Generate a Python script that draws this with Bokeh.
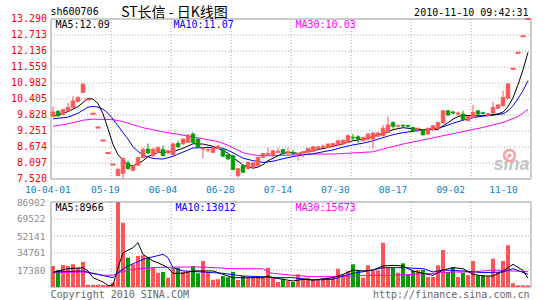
from bokeh.plotting import figure
from bokeh.models import Range1d, ColumnDataSource
from bokeh.core.properties import value
from bokeh.embed import file_html
from bokeh.resources import INLINE

# ---------------- data ----------------
opens = [9.78, 9.96, 9.84, 9.98, 10.10, 10.31, 10.64, 10.39, 9.87, 9.38, 8.91, 8.46, 8.04, 7.64, 7.72, 8.10,
         7.83, 8.02, 8.29, 8.60, 8.36, 8.48, 8.58, 8.46, 8.40, 8.80, 8.78, 8.84, 9.14, 8.96, 8.60, 8.56,
         8.48, 8.62, 8.58, 8.39, 8.36, 7.64, 8.00, 7.90, 7.94, 8.00, 8.30, 8.40, 8.36, 8.48, 8.58, 8.46,
         8.48, 8.42, 8.46, 8.48, 8.51, 8.60, 8.66, 8.66, 8.70, 8.74, 8.78, 8.84, 9.02, 9.04, 8.90, 8.94,
         8.96, 9.06, 9.08, 9.20, 9.56, 9.42, 9.46, 9.45, 9.38, 9.32, 9.30, 9.14, 9.30, 9.34, 9.54, 9.98,
         9.94, 9.86, 9.86, 9.62, 9.74, 9.98, 9.92, 9.80, 9.90, 10.07, 10.16, 10.43, 11.50, 12.07, 12.67, 13.29]
closes = [9.94, 9.80, 10.02, 10.10, 10.34, 10.46, 10.94, 10.39, 9.87, 9.38, 8.91, 8.46, 8.04, 7.86, 8.26, 7.90,
          8.00, 8.29, 8.58, 8.46, 8.60, 8.66, 8.36, 8.54, 8.78, 8.68, 8.96, 9.11, 8.84, 8.66, 8.62, 8.58,
          8.66, 8.70, 8.34, 8.24, 7.86, 7.90, 7.76, 8.12, 8.10, 8.30, 8.44, 8.44, 8.54, 8.52, 8.42, 8.50,
          8.44, 8.44, 8.50, 8.62, 8.68, 8.68, 8.70, 8.78, 8.80, 8.90, 8.92, 9.08, 9.00, 8.96, 9.02, 9.14,
          9.18, 9.18, 9.35, 9.47, 9.42, 9.45, 9.43, 9.42, 9.26, 9.35, 9.11, 9.35, 9.44, 9.56, 9.98, 9.83,
          9.90, 9.90, 9.66, 9.78, 9.92, 9.86, 9.88, 9.88, 10.10, 10.19, 10.46, 10.95, 11.50, 12.07, 12.67, 13.29]
highs = [10.13, 10.00, 10.05, 10.27, 10.52, 10.50, 10.97, 10.39, 9.87, 9.38, 8.91, 8.46, 8.04, 7.92, 8.30, 8.18,
         8.02, 8.31, 8.66, 8.80, 8.62, 8.68, 8.72, 8.56, 8.84, 8.90, 8.98, 9.14, 9.20, 8.98, 8.66, 8.62,
         8.68, 8.74, 8.62, 8.42, 8.38, 7.92, 8.04, 8.16, 8.12, 8.32, 8.46, 8.66, 8.56, 8.64, 8.60, 8.66,
         8.58, 8.46, 8.52, 8.64, 8.70, 8.70, 8.76, 8.80, 8.82, 8.92, 8.94, 9.14, 9.14, 9.10, 9.04, 9.16,
         9.20, 9.20, 9.47, 9.78, 9.60, 9.48, 9.48, 9.46, 9.40, 9.38, 9.32, 9.37, 9.46, 9.58, 10.00, 10.00,
         9.96, 9.96, 9.98, 9.80, 10.19, 10.00, 9.94, 9.90, 10.31, 10.22, 10.70, 10.98, 11.50, 12.07, 12.67, 13.29]
lows = [9.76, 9.76, 9.82, 9.96, 10.08, 10.28, 10.62, 10.39, 9.87, 9.38, 8.91, 8.46, 8.04, 7.64, 7.52, 7.85,
        7.80, 8.00, 8.27, 8.42, 8.30, 8.46, 8.34, 8.42, 8.34, 8.64, 8.76, 8.82, 8.82, 8.64, 8.26, 8.48,
        8.46, 8.60, 8.32, 8.22, 7.84, 7.58, 7.74, 7.86, 7.92, 7.98, 8.28, 8.36, 8.34, 8.46, 8.40, 8.44,
        8.38, 8.18, 8.28, 8.46, 8.50, 8.58, 8.62, 8.64, 8.68, 8.72, 8.76, 8.82, 8.90, 8.82, 8.88, 8.92,
        8.62, 9.04, 9.06, 9.18, 9.34, 9.38, 9.40, 9.38, 9.24, 9.20, 9.10, 9.12, 9.28, 9.30, 9.52, 9.78,
        9.86, 9.80, 9.62, 9.60, 9.72, 9.84, 9.84, 9.78, 9.88, 10.05, 10.14, 10.41, 11.50, 12.07, 12.67, 13.29]
volumes = [21500, 17100, 22500, 21500, 23200, 19700, 25600, 2400, 2300, 2200, 2000, 1800, 4500, 86902, 65700, 30000,
           23200, 31700, 32400, 30000, 20400, 14600, 15300, 9500, 19700, 19700, 15300, 15300, 21500, 14000, 26600, 15300,
           7500, 8000, 11200, 10000, 15300, 7100, 11200, 9500, 10200, 10200, 9500, 19700, 9500, 5100, 8500, 6100,
           5100, 13000, 8500, 9500, 7800, 7800, 8500, 9500, 11200, 18700, 12600, 16000, 23200, 16400, 9500, 22200,
           16400, 17000, 45300, 20400, 19700, 14600, 24200, 13000, 16400, 17400, 17400, 10200, 10200, 22200, 37800, 15300,
           20400, 10200, 14600, 12300, 26600, 12000, 12000, 11200, 29000, 15300, 26600, 42600, 3800, 1700, 1700, 1700]

# moving-average lines, read at the listed candle indices
ma5_x = [0, 3, 5, 7, 8, 9, 10, 11, 12, 13, 14, 15, 16, 17, 18, 19, 21, 24, 26, 28, 30, 32, 34, 35, 36, 37, 38, 40, 41, 42,
         43, 44, 46, 48, 49, 50, 52, 54, 56, 58, 60, 62, 64, 66, 68, 70, 72, 74, 76, 77, 78, 79, 80, 81, 82, 84, 86, 88,
         89, 90, 91, 92, 93, 94, 95]
ma5_v = [9.78, 9.95, 10.13, 10.43, 10.40, 10.24, 9.87, 9.33, 8.76, 8.40, 8.20, 8.02, 8.00, 8.07, 8.18, 8.33, 8.48, 8.50,
         8.63, 8.79, 8.78, 8.70, 8.55, 8.45, 8.29, 8.16, 8.02, 7.91, 7.95, 8.04, 8.18, 8.27, 8.45, 8.48, 8.44, 8.48, 8.54,
         8.62, 8.70, 8.79, 8.90, 8.95, 9.05, 9.15, 9.30, 9.37, 9.33, 9.30, 9.30, 9.30, 9.44, 9.55, 9.68, 9.77, 9.82, 9.80,
         9.80, 9.84, 9.87, 9.93, 10.13, 10.45, 10.92, 11.46, 12.09]
ma10_x = [0, 3, 5, 7, 8, 9, 10, 11, 12, 13, 14, 15, 16, 17, 18, 20, 22, 24, 26, 28, 30, 32, 34, 36, 38, 40, 42, 44, 46, 48,
          50, 52, 54, 56, 58, 60, 62, 64, 66, 68, 70, 72, 74, 76, 78, 80, 82, 84, 86, 88, 90, 91, 92, 93, 94, 95]
ma10_v = [9.69, 9.75, 9.89, 10.11, 10.14, 10.11, 10.04, 9.89, 9.68, 9.44, 9.19, 8.96, 8.68, 8.52, 8.38, 8.26, 8.24, 8.34,
          8.49, 8.64, 8.65, 8.66, 8.63, 8.47, 8.27, 8.18, 8.12, 8.16, 8.25, 8.33, 8.39, 8.43, 8.50, 8.57, 8.67, 8.75, 8.81,
          8.90, 9.01, 9.12, 9.19, 9.24, 9.30, 9.33, 9.40, 9.53, 9.64, 9.73, 9.79, 9.82, 9.87, 9.98, 10.16, 10.42, 10.70, 11.07]
ma30_x = [0, 3, 6, 8, 12, 14, 18, 22, 26, 30, 33, 35, 36, 38, 40, 42, 44, 48, 52, 56, 60, 64, 66, 70, 74, 78, 82, 86, 90,
          93, 95]
ma30_v = [9.42, 9.51, 9.64, 9.68, 9.66, 9.59, 9.37, 9.22, 9.10, 8.97, 8.87, 8.74, 8.64, 8.47, 8.39, 8.36, 8.36, 8.39, 8.42,
          8.42, 8.46, 8.50, 8.60, 8.78, 8.93, 9.08, 9.23, 9.38, 9.56, 9.77, 10.03]

vma5_x = [0, 1, 3, 6, 7, 8, 10, 11, 12, 13, 14, 16, 17, 18, 20, 21, 23, 24, 26, 28, 30, 32, 34, 36, 38, 42, 43, 44, 48, 50,
          52, 56, 58, 60, 62, 64, 66, 68, 70, 72, 74, 76, 78, 80, 82, 84, 86, 88, 90, 92, 94, 95]
vma5_v = [14600, 16400, 18700, 19700, 16400, 9500, 5100, 1700, 1700, 19700, 35000, 40200, 45300, 33400, 26600, 24800,
          19700, 14000, 14000, 16400, 16400, 16400, 13000, 9500, 9500, 9500, 11200, 9540, 6130, 7840, 7160, 9540, 12950,
          17380, 16360, 17380, 21470, 22150, 21470, 16360, 13970, 11930, 17380, 19770, 18740, 12950, 11250, 11250, 16360,
          23200, 17000, 8966]
vma10_x = [0, 6, 8, 12, 13, 15, 18, 22, 23, 24, 26, 30, 34, 38, 42, 44, 48, 52, 56, 58, 60, 64, 66, 70, 74, 76, 78, 82,
           86, 90, 92, 95]
vma10_v = [15300, 16400, 14000, 9500, 14600, 21500, 28300, 33400, 30000, 19700, 16400, 15300, 14000, 11200, 10500, 9540,
           9540, 7160, 7840, 11250, 13970, 17380, 19770, 19770, 18740, 15340, 17380, 16360, 14650, 15340, 18740, 13012]
vma30_x = [0, 6, 10, 12, 13, 16, 20, 24, 30, 36, 42, 43, 44, 48, 52, 56, 60, 64, 68, 72, 76, 80, 84, 88, 92, 95]
vma30_v = [14600, 15300, 12000, 12000, 14600, 18100, 19700, 20400, 20400, 18700, 18700, 15300, 13970, 11930, 10560,
           10560, 11250, 11930, 11930, 12950, 13970, 15340, 15340, 17380, 16360, 15673]

price_ticks = [7.520, 8.097, 8.674, 9.251, 9.828, 10.405, 10.982, 11.559, 12.136, 12.713, 13.290]
vol_ticks = [17380, 34761, 52141, 69522, 86902]
date_labels = ["10-04-01", "05-19", "06-04", "06-28", "07-14", "07-30", "08-17", "09-02", "11-10"]
date_pos = [-1.04, 10.46, 22.0, 33.46, 45.0, 56.46, 68.0, 79.54, 90.1]
vgrid_pos = [11.6, 23.6, 35.6, 47.6, 59.6, 71.6, 83.6]

code = "sh600706"
title = "ST长信 - 日K线图"
stamp = "2010-11-10 09:42:31"

# ---------------- layout geometry (pixels) ----------------
W, H = 545, 300
X0 = 52.5            # pixel centre of candle 0
STEP = 5.0           # pixels per candle
N = len(closes)
P_TOP, P_BOT = 18.5, 178.5        # price panel frame rows
V_TOP, V_BOT = 201.5, 286.5       # volume panel frame rows
p_lo, p_hi = price_ticks[0], price_ticks[-1]
v_hi = vol_ticks[-1]
ppx = (p_hi - p_lo) / (P_BOT - P_TOP)
vpx = v_hi / (V_BOT - V_TOP)

MONO = "DejaVu Sans Mono"
UP = "#ff5454"
DOWN = "#009c00"
GRID = "#a8a8a8"
FRAME = "#999999"

p = figure(width=W, height=H, output_backend="svg", toolbar_location=None,
           x_axis_location=None, y_axis_location=None, min_border=0,
           x_range=Range1d(-X0 / STEP, (W - X0) / STEP),
           y_range=Range1d(p_lo - (H - P_BOT) * ppx, p_hi + P_TOP * ppx),
           background_fill_color="white", border_fill_color="white", outline_line_color=None)
p.xgrid.visible = False
p.ygrid.visible = False
p.extra_y_ranges = {"vol": Range1d(-(H - V_BOT) * vpx, v_hi + V_TOP * vpx),
                    "px": Range1d(H, 0)}
p.extra_x_ranges = {"px": Range1d(0, W)}

xl, xr = -0.4, N - 0.4   # frame edges in candle units

# ---- grids (dotted) ----
p.segment(x0=xl, x1=xr, y0=price_ticks[1:-1], y1=price_ticks[1:-1], line_color=GRID, line_dash="1 2")
p.segment(x0=vgrid_pos, x1=vgrid_pos, y0=p_lo, y1=p_hi, line_color=GRID, line_dash="1 2")
p.segment(x0=xl, x1=xr, y0=vol_ticks[:-1], y1=vol_ticks[:-1], line_color=GRID, line_dash="1 2",
          y_range_name="vol")
p.segment(x0=vgrid_pos, x1=vgrid_pos, y0=0, y1=v_hi, line_color=GRID, line_dash="1 2",
          y_range_name="vol")

# ---- sina watermark ----
p.text(x=[493], y=[173], text=["sina"], text_font=value("Liberation Sans"),
       text_font_style="bold italic", text_font_size="18px", text_color="#c4c4c4",
       text_baseline="bottom", text_align="left", x_range_name="px", y_range_name="px")
p.scatter(x=[509], y=[155], marker="circle", size=11, fill_color=None,
          line_color="#f5a3a3", line_width=2.5, x_range_name="px", y_range_name="px")
p.scatter(x=[509], y=[155], marker="circle", size=4, fill_color="#f5a3a3",
          line_color=None, x_range_name="px", y_range_name="px")

# ---- frames ----
p.quad(left=xl, right=xr, bottom=p_lo, top=p_hi, fill_color=None, line_color=FRAME)
p.quad(left=xl, right=xr, bottom=0, top=v_hi, fill_color=None, line_color=FRAME, y_range_name="vol")

# ---- price candles ----
idx = list(range(N))
is_dash = [highs[i] == lows[i] for i in idx]
col = [UP if closes[i] >= opens[i] else DOWN for i in idx]
body = ColumnDataSource(dict(
    x=[i for i in idx if not is_dash[i]],
    h=[highs[i] for i in idx if not is_dash[i]],
    l=[lows[i] for i in idx if not is_dash[i]],
    top=[max(opens[i], closes[i]) for i in idx if not is_dash[i]],
    bot=[min(opens[i], closes[i]) for i in idx if not is_dash[i]],
    c=[col[i] for i in idx if not is_dash[i]],
))
dash = ColumnDataSource(dict(x=[i for i in idx if is_dash[i]], y=[closes[i] for i in idx if is_dash[i]]))

p.line(ma30_x, ma30_v, color="#ff00ff", line_width=1)
p.line(ma10_x, ma10_v, color="#0000ff", line_width=1)
p.line(ma5_x, ma5_v, color="#000000", line_width=1)
p.segment(x0="x", y0="l", x1="x", y1="h", color="c", line_width=1, source=body)
p.vbar(x="x", width=0.72, top="top", bottom="bot", fill_color="c", line_color="c",
       line_width=0.8, source=body)
p.scatter(x="x", y="y", source=dash, marker="dash", size=5, line_width=2, line_color=UP)

# ---- volume ----
p.vbar(x=idx, width=0.8, top=volumes, bottom=0, fill_color=col, line_color=None, y_range_name="vol")
p.line(vma30_x, vma30_v, color="#ff00ff", line_width=1, y_range_name="vol")
p.line(vma10_x, vma10_v, color="#0000ff", line_width=1, y_range_name="vol")
p.line(vma5_x, vma5_v, color="#000000", line_width=1, y_range_name="vol")

# ---- axis labels ----
p.text(x=-1.2, y=price_ticks, text=[f"{t:.3f}" for t in price_ticks], text_font=value(MONO),
       text_font_size="10px", text_color="#ff0000", text_align="right", text_baseline="middle",
       y_offset=-1)
p.text(x=-1.5, y=vol_ticks, text=[str(t) for t in vol_ticks], text_font=value(MONO),
       text_font_size="9.5px", text_color="#8c8c8c", text_align="right", text_baseline="middle",
       y_range_name="vol")
p.text(x=date_pos, y=189, text=date_labels, text_font=value(MONO), text_font_size="9.5px",
       text_color="#0a7fd0", text_align="center", text_baseline="middle", y_range_name="px")

# ---- legends / titles ----
for lx, ly, txt, tc in [(55, 24, f"MA5:{ma5_v[-1]:.2f}", "#000000"),
                        (173, 24, f"MA10:{ma10_v[-1]:.2f}", "#0000ff"),
                        (295, 24, f"MA30:{ma30_v[-1]:.2f}", "#ff00ff"),
                        (55, 206.5, f"MA5:{vma5_v[-1]}", "#000000"),
                        (175, 206.5, f"MA10:{vma10_v[-1]}", "#0000ff"),
                        (295, 206.5, f"MA30:{vma30_v[-1]}", "#ff00ff")]:
    p.text(x=[lx], y=[ly], text=[txt], text_font=value(MONO), text_font_size="10px",
           text_color=tc, text_baseline="middle", text_align="left",
           x_range_name="px", y_range_name="px")

p.text(x=[50], y=[11], text=[code], text_font=value(MONO), text_font_size="10px",
       text_color="#000000", text_baseline="middle", text_align="left",
       x_range_name="px", y_range_name="px")
p.text(x=[174], y=[10.5], text=[title], text_font=value("Noto Sans CJK SC"), text_font_size="14px",
       text_color="#000000", text_baseline="middle", text_align="center",
       x_range_name="px", y_range_name="px")
p.text(x=[528], y=[11.5], text=[stamp], text_font=value(MONO), text_font_size="10px",
       text_color="#000000", text_baseline="middle", text_align="right",
       x_range_name="px", y_range_name="px")
p.text(x=[50], y=[293.5], text=["Copyright 2010 SINA.COM"], text_font=value(MONO),
       text_font_size="10px", text_color="#666666", text_baseline="middle", text_align="left",
       x_range_name="px", y_range_name="px")
p.text(x=[529], y=[293.5], text=["http://finance.sina.com.cn"], text_font=value(MONO),
       text_font_size="10px", text_color="#666666", text_baseline="middle", text_align="right",
       x_range_name="px", y_range_name="px")

open("out.html", "w").write(file_html(p, INLINE))
